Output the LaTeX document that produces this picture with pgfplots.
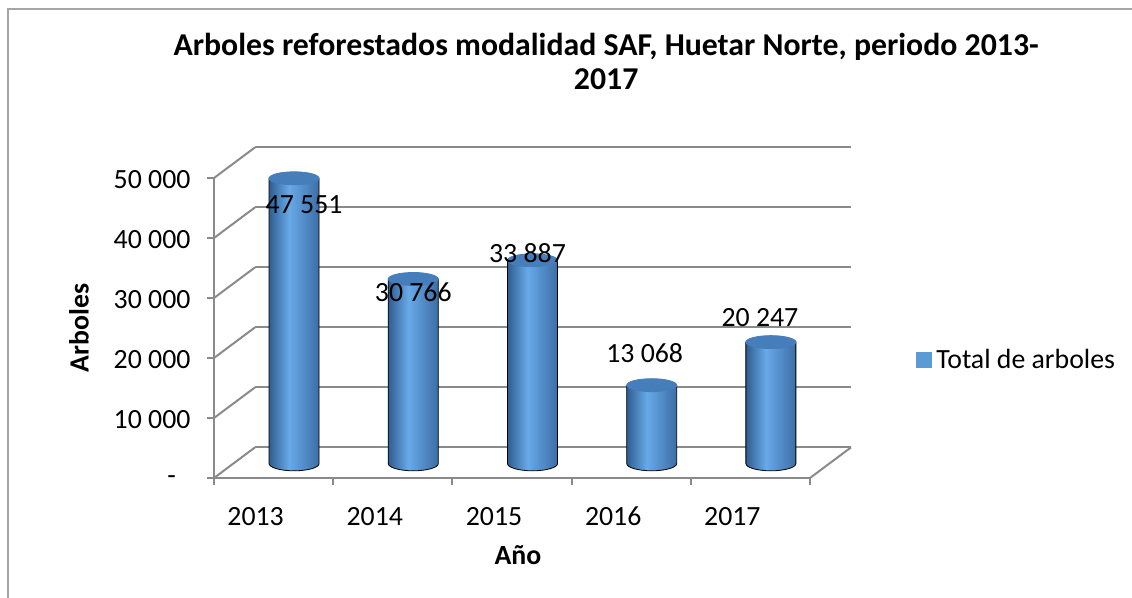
\documentclass[border=0pt]{standalone}
\usepackage{fontspec}
\setmainfont{Carlito}
\usepackage{pgfplots}
\pgfplotsset{compat=1.18}
\usepackage{pgfplotstable}
\definecolor{gridc}{HTML}{8A8A8A}
\definecolor{framec}{HTML}{A6A6A6}
\definecolor{cA}{HTML}{2F5E91}
\definecolor{cB}{HTML}{68A9E8}
\definecolor{cC}{HTML}{3C6EA6}
\definecolor{ctop}{HTML}{467EBB}
\definecolor{leg}{HTML}{5B9BD5}
\pgfdeclarehorizontalshading{cyl}{100bp}{color(0bp)=(cA); color(25bp)=(cA); color(45bp)=(cB); color(75bp)=(cC); color(100bp)=(cC)}

\pgfplotstableread[col sep=comma]{
x,v
0,47551
1,30766
2,33887
3,13068
4,20247
}\bars

\pgfplotstableread[col sep=comma]{
x,y,label
0.256,45500,47 551
1.172,31000,30 766
2.130,37500,33 887
3.113,20833,13 068
4.080,26667,20 247
}\labels

\begin{document}
\begin{tikzpicture}[font=\fontsize{13.9}{16}\selectfont]
\path[use as bounding box] (0,0) rectangle (566pt,299pt);
\draw[framec, line width=1pt] (4pt,0) -- (4pt,294.5pt) -- (566pt,294.5pt);
\begin{axis}[
  at={(107pt,60pt)}, anchor=south west,
  scale only axis, width=298pt, height=150pt,
  xmin=-0.5, xmax=4.5, ymin=0, ymax=50000,
  clip=false,
  axis x line*=bottom, axis y line*=left,
  axis line style={gridc, line width=1pt},
  tick style={gridc, line width=1pt},
  tick align=outside, major tick length=3.5pt,
  xtick={-0.5,0.5,1.5,2.5,3.5,4.5}, xticklabels={},
  extra x ticks={0,1,2,3,4},
  extra x tick labels={2013,2014,2015,2016,2017},
  extra x tick style={major tick length=0pt, xticklabel style={anchor=base, xshift=-9pt, yshift=-24pt}},
  ytick={0,10000,20000,30000,40000,50000},
  yticklabels={{\makebox[0pt][l]{\hspace{-11.5pt}-}},10 000,20 000,30 000,40 000,50 000},
  scaled y ticks=false,
  yticklabel style={anchor=east, xshift=-4.75pt, yshift=-1pt},
  title={Arboles reforestados modalidad SAF, Huetar Norte, periodo 2013-\\2017},
  title style={at={(axis description cs:0.658,1.348)}, anchor=center, align=center,
    font=\bfseries\fontsize{15.9}{17.2}\selectfont},
  xlabel={\textbf{Año}},
  every axis x label/.style={at={(axis description cs:0.51,-0.257)}, anchor=center},
  ylabel={\textbf{Arboles}},
  every axis y label/.style={at={(axis description cs:-0.2266,0.5)}, rotate=90, anchor=center},
  legend style={at={(axis description cs:1.178,0.393)}, anchor=west, draw=none, fill=none,
    inner sep=0pt, font=\fontsize{13.9}{16}\selectfont},
]
% back wall gridlines
\addplot[gridc, line width=1pt, forget plot] coordinates {(-0.156,5100) (4.844,5100)};
\addplot[gridc, line width=1pt, forget plot] coordinates {(-0.156,15100) (4.844,15100)};
\addplot[gridc, line width=1pt, forget plot] coordinates {(-0.156,25100) (4.844,25100)};
\addplot[gridc, line width=1pt, forget plot] coordinates {(-0.156,35100) (4.844,35100)};
\addplot[gridc, line width=1pt, forget plot] coordinates {(-0.156,45100) (4.844,45100)};
\addplot[gridc, line width=1pt, forget plot] coordinates {(-0.156,55100) (4.844,55100)};
% side wall diagonals
\addplot[gridc, line width=1pt, forget plot] coordinates {(-0.5,0) (-0.156,5100)};
\addplot[gridc, line width=1pt, forget plot] coordinates {(-0.5,10000) (-0.156,15100)};
\addplot[gridc, line width=1pt, forget plot] coordinates {(-0.5,20000) (-0.156,25100)};
\addplot[gridc, line width=1pt, forget plot] coordinates {(-0.5,30000) (-0.156,35100)};
\addplot[gridc, line width=1pt, forget plot] coordinates {(-0.5,40000) (-0.156,45100)};
\addplot[gridc, line width=1pt, forget plot] coordinates {(-0.5,50000) (-0.156,55100)};
\addplot[gridc, line width=1pt, forget plot] coordinates {(4.5,0) (4.844,5100)};
% cylinders
\addplot[scatter, only marks, mark=*, mark size=0pt,
  mark options={draw=none, fill=none},
  visualization depends on={\thisrow{v}*0.003 \as \h},
  scatter/@pre marker code/.code={%
    \shade[shading=cyl] (-12.5pt,0pt) -- (-12.5pt,-\h pt)
      arc[start angle=180, end angle=360, x radius=12.5pt, y radius=3.6pt]
      -- (12.5pt,0pt) -- cycle;
    \fill[ctop] (0pt,0pt) ellipse[x radius=12.5pt, y radius=3.25pt];
  },
  scatter/@post marker code/.code={},
  legend image code/.code={\fill[leg] (0pt,-3.75pt) rectangle (7.5pt,3.75pt);},
] table[x expr=\thisrow{x}+0.172, y expr=\thisrow{v}+2400] {\bars};
\addlegendentry{Total de arboles}
% data labels
\addplot[draw=none, mark=none, forget plot,
  nodes near coords, point meta=explicit symbolic,
  nodes near coords style={anchor=center, text=black}]
  table[x=x, y=y, meta=label] {\labels};
\end{axis}
\end{tikzpicture}
\end{document}
